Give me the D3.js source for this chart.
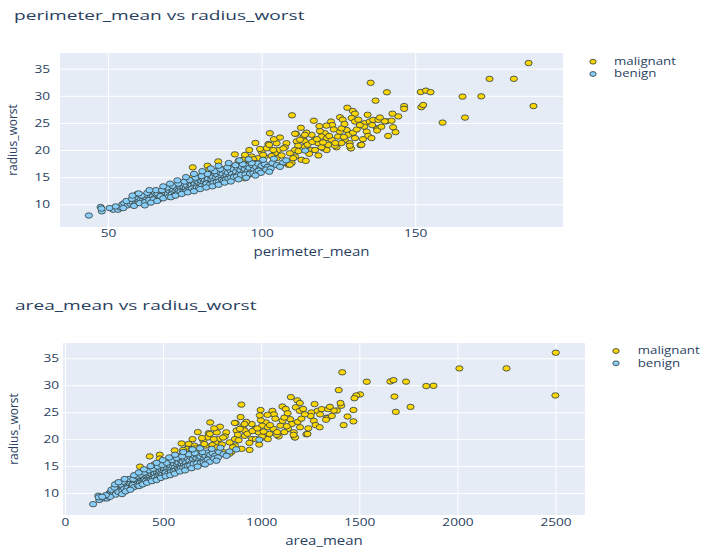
<!DOCTYPE html>
<html><head><meta charset="utf-8">
<script src="https://cdn.jsdelivr.net/npm/d3@7"></script>
<style>body{margin:0;background:#fff}svg{display:block}</style>
</head><body><svg id="c" width="719" height="550"></svg>
<script>
// ---- data ----
const classes = ["malignant", "benign"];
const fields = ["perimeter_mean", "area_mean", "radius_worst"];
// each point: [perimeter_mean, area_mean, radius_worst]
const malignantPoints = [
[186.9,2501,36.04],[188.5,2499,28.11],[182.1,2250,33.13],[174.2,2010,33.12],[171.5,1878,29.9],[165.4,1841,29.85],[166.2,1761,25.98],[158.9,1686,25.06],[151.8,1658,30.7],[153.5,1674,30.95],
[155.0,1738,30.67],[152.0,1679,27.9],[152.6,1504,28.3],[146.4,1484,28.1],[146.4,1475,27.6],[135.5,1413,32.4],[140.8,1538,30.65],[137.1,1395,29.1],[144.5,1408,26.2],[142.6,1404,26.7],
[141.2,1420,22.6],[143.6,1470,23.3],[142.8,1440,24.2],[140.6,1386,25.3],[142.3,1470,25.4],[140.1,1370,25.3],[137.7,1336,24.0],[132.2,1230,20.9],[129.0,1170,20.35],[127.9,1151,27.8],
[129.7,1184,27.2],[130.4,1197,26.7],[125.5,1108,26.05],[126.4,1125,25.6],[109.9,899,26.4],[122.6,1057,25.25],[123.0,1065,24.6],[121.1,1032,24.5],[129.3,1176,25.9],[130.4,1196,25.25],
[133.6,1256,24.95],[135.2,1287,25.25],[136.3,1308,25.56],[138.0,1341,25.56],[133.4,1252,24.3],[134.2,1268,23.4],[134.7,1277,22.6],[137.6,1335,23.9],[137.6,1330,23.6],[135.8,1298,22.2],
[127.7,1148,23.7],[128.2,1156,22.8],[129.8,1186,23.2],[130.4,1198,22.2],[127.1,1137,21.9],[128.7,1166,21.26],[129.1,1173,20.3],[132.5,1236,20.96],[124.9,1098,22.5],[125.5,1109,23.4],
[126.0,1118,24.0],[120.6,1024,23.1],[119.5,1005,22.5],[121.2,1034,22.2],[122.8,1062,21.9],[124.4,1089,20.5],[117.4,970,21.9],[118.4,987,21.26],[120.1,1015,20.3],[121.2,1034,20.0],
[116.3,952,22.8],[114.6,924,23.2],[113.6,908,22.4],[111.2,870,23.0],[114.1,916,21.6],[111.4,874,21.6],[111.9,881,20.8],[110.9,866,20.0],[114.1,917,20.6],[108.1,822,21.26],
[107.6,815,20.5],[105.4,782,20.0],[104.3,766,19.4],[103.3,751,18.9],[104.9,775,18.5],[102.7,740,23.1],[117.0,997,25.4],[102.2,732,21.1],[101.6,727,20.3],[100.0,705,19.7],
[100.9,716,18.8],[98.9,689,18.5],[96.8,660,18.8],[94.6,630,19.1],[94.0,622,18.2],[95.7,645,18.1],[91.3,594,19.2],[108.7,832,17.3],[109.8,848,17.6],[113.0,900,18.2],
[114.4,941,18.0],[110.9,866,18.8],[116.3,953,20.0],[117.4,972,20.0],[119.5,1004,20.5],[121.7,1042,20.96],[123.9,1080,20.8],[126.0,1118,21.3],[128.7,1165,20.8],[89.2,560,15.7],
[77.6,432,16.8],[77.6,382,14.9],[82.4,483,17.1],[85.9,559,17.9],[97.3,666,18.3],[97.8,673,17.6],[102.5,738,20.95],[103.8,758,20.0],[100.5,710,19.1],[104.9,774,21.25],
[107.1,806,20.3],[109.2,839,19.4],[110.9,865,23.0],[112.5,891,21.9],[114.1,915,22.8],[93.0,608,15.1],[94.6,630,14.8],[95.7,687,15.4],[85.4,517,16.0],[87.0,536,16.5],
[90.8,581,16.8],[92.4,600,17.4],[107.1,806,17.6],[109.2,838,17.3],[110.3,856,18.5],[83.0,483,16.4],[115.0,930,21.0],[116.5,955,21.5],[118.0,980,22.0],[119.0,998,23.5],
[120.0,1012,21.4],[122.0,1045,22.6],[123.5,1072,23.8],[124.0,1081,21.3],[126.8,1130,22.4],[131.0,1205,23.8],[132.0,1222,24.6],[133.0,1240,22.0],[136.0,1300,24.6],[139.0,1360,24.3],
[138.5,1350,26.0],[134.5,1272,26.5],[131.5,1214,25.6],[127.0,1135,24.8],[118.8,993,24.4],[112.8,895,24.1],[106.0,790,22.3],[104.0,760,22.0],[99.5,698,20.2],[98.0,677,21.3],
[96.0,650,20.0],[92.5,602,18.0],[88.5,550,16.2],[84.0,500,15.8],[80.5,455,15.3],[115.5,940,19.3],[118.5,990,19.0],[112.0,885,19.8],[106.5,800,19.0]
];
const benignPoints = [
[43.79,143.5,7.93],[47.6,170,9.5],[48.0,175,8.7],[47.9,172,9.2],[51.7,201,9.0],[53.3,215,9.0],[54.1,221,9.4],[54.7,227,10.0],[55.3,233,10.2],[56.4,240,9.8],
[57.3,248,10.1],[58.0,256,10.4],[58.8,263,10.0],[59.2,265,11.0],[59.6,270,11.9],[60.1,275,10.5],[60.7,280,10.9],[61.3,287,10.7],[61.9,290,11.3],[62.5,294,10.9],
[63.0,300,11.6],[63.8,305,11.2],[64.1,310,12.0],[64.6,316,11.5],[65.0,320,11.1],[65.3,325,12.1],[65.8,330,11.8],[66.2,336,12.0],[66.9,340,11.2],[67.4,347,11.8],
[67.8,350,12.4],[68.3,356,11.6],[68.7,360,12.2],[69.1,365,12.7],[69.5,370,11.9],[70.0,373,12.5],[70.4,380,13.0],[70.9,384,12.1],[71.2,388,12.6],[71.8,394,12.3],
[72.2,398,13.1],[72.5,402,12.8],[73.0,406,12.5],[73.3,410,13.4],[73.8,416,12.9],[74.2,421,12.6],[74.6,426,13.2],[75.0,430,13.7],[75.3,435,13.0],[75.7,440,13.5],
[76.1,445,12.8],[76.4,448,14.0],[76.9,452,13.3],[77.2,457,13.6],[77.6,462,14.2],[77.9,466,13.2],[78.3,470,13.8],[78.7,474,14.4],[79.0,478,13.5],[79.4,482,14.1],
[79.8,487,14.6],[80.1,490,13.7],[80.4,494,14.3],[80.8,499,14.8],[81.2,503,14.0],[81.5,507,14.5],[81.9,512,15.1],[82.3,516,14.2],[82.6,520,14.7],[82.9,525,13.9],
[83.3,528,15.3],[83.7,533,14.6],[84.1,537,15.0],[84.5,542,14.4],[84.9,547,15.6],[85.2,551,14.9],[85.6,556,15.4],[86.0,560,14.7],[86.4,566,15.9],[86.9,572,15.2],
[87.3,578,15.6],[87.8,583,14.9],[88.1,588,16.1],[88.6,594,15.4],[89.0,600,15.8],[89.5,605,15.1],[89.9,611,16.2],[90.4,617,15.6],[90.8,622,16.5],[91.3,628,15.3],
[91.7,634,16.0],[92.2,640,16.7],[92.6,646,15.6],[93.1,652,16.3],[93.6,658,16.9],[94.0,663,15.8],[94.5,670,16.5],[95.0,676,17.1],[95.5,683,16.1],[96.0,690,16.7],
[96.5,696,15.9],[97.0,702,17.2],[97.6,710,16.4],[98.2,716,16.9],[98.8,724,17.5],[99.4,732,16.5],[100.0,740,17.1],[101.0,752,17.4],[102.0,765,16.9],[103.5,785,17.6],
[105.0,807,17.2],[107.0,838,17.7],[108.0,873,18.1],[114.2,990,19.9],[58.5,258,9.7],[60.3,272,10.2],[62.1,292,10.4],[63.4,302,10.8],[64.8,318,10.9],[66.5,338,10.9],
[67.1,345,11.5],[68.0,352,11.1],[69.9,371,11.4],[70.7,381,11.8],[71.5,390,11.6],[72.8,404,12.0],[73.6,413,12.3],[74.4,424,12.2],[75.5,437,12.4],[76.7,450,12.7],
[77.4,459,12.9],[78.1,468,12.6],[78.9,476,13.1],[79.6,484,13.0],[80.6,496,13.4],[81.7,509,13.5],[82.1,514,13.8],[83.1,526,13.6],[84.3,540,13.9],[85.4,553,14.1],
[86.2,563,14.2],[87.1,575,14.5],[87.6,580,14.3],[88.4,590,14.6],[89.2,602,14.7],[90.1,614,14.9],[91.0,625,15.0],[92.0,637,15.1],[93.3,655,15.4],[94.7,672,15.5],
[96.2,692,15.6],[97.3,706,15.7],[98.5,720,16.0],[99.1,728,16.2],[99.8,738,15.8],[101.5,760,16.4],[103.0,780,16.6],[61.0,283,11.6],[62.8,297,12.1],[65.6,327,12.6],
[67.6,348,12.6],[69.3,367,13.1],[71.0,386,13.4],[72.9,405,13.8],[74.9,428,14.2],[76.6,449,14.5],[78.5,472,14.9],[80.5,495,15.2],[82.4,518,15.6],[84.7,545,16.1],
[86.6,569,16.5],[88.9,597,16.8],[91.5,631,17.2],[93.9,662,17.4],[96.8,700,17.6],[56.0,237,10.6],[57.8,252,11.0],
[70.5,378,11.3],[72.0,396,11.6],[74.0,418,11.9],[76.0,443,12.2],[78.0,467,12.4],[80.0,489,12.8],[82.0,513,13.1],[84.0,536,13.3],[86.0,560,13.6],[88.0,586,14.0],
[90.0,612,14.2],[92.5,645,14.6],[95.0,676,14.9],[98.0,714,15.3],[68.0,352,13.3],[70.2,376,13.8],[72.6,403,14.4],[75.4,436,15.0],[78.0,467,15.6],[80.7,498,16.1],
[83.5,531,16.6],[86.0,561,17.1],[89.3,603,17.6],[92.8,650,18.1],[95.8,688,18.3],[100.5,748,18.2],[104.0,792,18.4],[62.0,291,9.8],[64.0,309,10.3],[66.0,333,10.6],
[58.0,255,11.6],[60.0,273,12.0],[55.0,230,9.3],[52.5,208,9.6],[50.5,190,9.3],[63.5,304,12.6],[106.0,823,16.9],[102.5,772,16.0]
];
const perimeterTicks = [50, 100, 150];
const areaTicks = [0, 500, 1000, 1500, 2000, 2500];
const radiusTicks = [10, 15, 20, 25, 30, 35];

// ---- style / layout ----
const colors = {malignant: "#FFD700", benign: "#87CEFA"};
const edge = "#3b4a4a";
const txtColor = "#2a3f5f";
const font = "'Open Sans', 'Liberation Sans', sans-serif";

const panels = [
  {title: "perimeter_mean vs radius_worst", xi: 0, xTicks: perimeterTicks, xDomain: [34.4, 198.1], yDomain: [5.81, 37.89],
   box: [60, 53, 563, 227], titlePos: [14, 20], yPad: 10, xPad: 3, xTitleY: 255.5, yTitleX: 16.5, legend: [593, 61.7, 614]},
  {title: "area_mean vs radius_worst", xi: 1, xTicks: areaTicks, xDomain: [-10, 2650], yDomain: [5.92, 37.84],
   box: [63, 343, 585, 515], titlePos: [15, 310], yPad: 4, xPad: 4, xTitleY: 544.5, yTitleX: 17.5, legend: [616, 351, 637.7]}
];

const svg = d3.select("#c");
svg.append("rect").attr("width", 719).attr("height", 550).attr("fill", "#fff");

function label(g, str, x, y, size, sx, anchor, rot) {
  return g.append("text")
    .attr("transform", `translate(${x},${y})` + (rot ? ` rotate(${rot})` : "") + ` scale(${sx},1)`)
    .attr("text-anchor", anchor)
    .style("font-family", font).style("font-size", size + "px")
    .attr("fill", txtColor).text(str);
}

panels.forEach(P => {
  const [x0, y0, x1, y1] = P.box;
  const w = x1 - x0, h = y1 - y0;
  const x = d3.scaleLinear().domain(P.xDomain).range([x0, x1]);
  const y = d3.scaleLinear().domain(P.yDomain).range([y1, y0]);
  const g = svg.append("g");

  g.append("rect").attr("x", x0).attr("y", y0).attr("width", w).attr("height", h).attr("fill", "#E5ECF6");

  // grid
  const gx = g.append("g").attr("transform", `translate(0,${y1})`)
    .call(d3.axisBottom(x).tickValues(P.xTicks).tickSize(-h).tickFormat(""));
  const gy = g.append("g").attr("transform", `translate(${x0},0)`)
    .call(d3.axisLeft(y).tickValues(radiusTicks).tickSize(-w).tickFormat(""));
  [gx, gy].forEach(a => { a.select(".domain").remove(); a.selectAll("line").attr("stroke", "#fff").attr("stroke-width", 1); });

  // tick labels
  const lx = g.append("g").attr("transform", `translate(0,${y1})`)
    .call(d3.axisBottom(x).tickValues(P.xTicks).tickSize(0).tickPadding(P.xPad).tickFormat(d3.format("d")));
  const ly = g.append("g").attr("transform", `translate(${x0},0)`)
    .call(d3.axisLeft(y).tickValues(radiusTicks).tickSize(0).tickPadding(0).tickFormat(d3.format("d")));
  [lx, ly].forEach(a => { a.select(".domain").remove(); a.selectAll("line").remove();
    a.selectAll("text").attr("fill", txtColor).style("font-family", font).style("font-size", "10.5px"); });
  lx.selectAll("text").attr("transform", "scale(1.3,1)");
  ly.selectAll("text").attr("x", 0).attr("transform", `translate(${-P.yPad},0) scale(1.3,1)`);

  // points: malignant first, benign on top
  [["malignant", malignantPoints], ["benign", benignPoints]].forEach(([cls, pts]) => {
    g.append("g").selectAll("ellipse").data(pts).join("ellipse")
      .attr("cx", d => x(d[P.xi])).attr("cy", d => y(d[2]))
      .attr("rx", 3.6).attr("ry", 2.7)
      .attr("fill", colors[cls]).attr("stroke", edge).attr("stroke-width", 0.9);
  });

  // titles
  label(svg, P.title, P.titlePos[0], P.titlePos[1], 13, 1.47, "start");
  label(svg, fields[P.xi], (x0 + x1) / 2, P.xTitleY, 12, 1.25, "middle");
  label(svg, fields[2], P.yTitleX, (y0 + y1) / 2, 12, 1, "middle", -90);

  // legend
  const [mx, ly0, tx] = P.legend;
  classes.forEach((c, i) => {
    const yy = ly0 + i * 12.3;
    svg.append("ellipse").attr("cx", mx).attr("cy", yy).attr("rx", 3.2).attr("ry", 2.4)
      .attr("fill", colors[c]).attr("stroke", edge).attr("stroke-width", 0.9);
    label(svg, c, tx, yy + 3.3, 10, 1.33, "start");
  });
});
</script></body></html>
